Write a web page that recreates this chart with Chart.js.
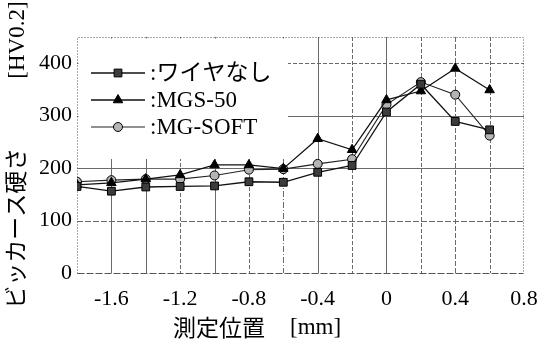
<!DOCTYPE html>
<html>
<head>
<meta charset="utf-8">
<script src="https://cdn.jsdelivr.net/npm/chart.js@4/dist/chart.umd.min.js"></script>
<style>
  html, body { margin: 0; padding: 0; background: #fff; }
  #wrap { width: 539px; height: 354px; }
</style>
</head>
<body>
<div id="wrap"><canvas id="c" width="539" height="354"></canvas></div>
<script>
// Measurement positions across the weld [mm]
const positions = [-1.8, -1.6, -1.4, -1.2, -1.0, -0.8, -0.6, -0.4, -0.2, 0, 0.2, 0.4, 0.6];

// Vickers hardness [HV0.2] for each condition
const noWire = [165, 156, 164, 165, 166, 174, 173, 192, 205, 307, 360, 289, 273];
const mgs50  = [168, 172, 179, 187, 206, 206, 199, 256, 235, 330, 347, 390, 349];
const mgSoft = [174, 177, 179, 179, 186, 197, 198, 208, 217, 321, 364, 340, 262];

const seriesNames = ['ワイヤなし', 'MGS-50', 'MG-SOFT'];
const xTickLabels = ['-1.6', '-1.2', '-0.8', '-0.4', '0', '0.4', '0.8'];
const yTickLabels = ['0', '100', '200', '300', '400'];

const SERIF = '"Liberation Serif", "Times New Roman", serif';
const JP = '"Noto Sans CJK JP", "Noto Sans", sans-serif';
const MIXED = '"Liberation Serif", "Noto Sans CJK JP", serif';

const toPoints = vals => vals.map((v, i) => ({ x: positions[i], y: v }));

// Grid line dash patterns (vertical lines left to right, horizontal lines bottom to top)
const vGridDash = [[], [], [4, 2], [], [4, 2], [6, 2, 1, 2], [], [4, 2], [], [4, 2], [5, 2], [4, 2]];
const hGridDash = [[6, 2], [], [], [4, 2], [5, 3], [], [6, 2], []];

function drawMarker(ctx, style, x, y, r, fill) {
  ctx.save();
  ctx.beginPath();
  if (style === 'rect') {
    const s = Math.SQRT1_2 * r;
    ctx.rect(x - s, y - s, 2 * s, 2 * s);
  } else if (style === 'triangle') {
    ctx.moveTo(x, y - r);
    ctx.lineTo(x + r * Math.sin(2 * Math.PI / 3), y - r * Math.cos(2 * Math.PI / 3));
    ctx.lineTo(x + r * Math.sin(4 * Math.PI / 3), y - r * Math.cos(4 * Math.PI / 3));
    ctx.closePath();
  } else {
    ctx.arc(x, y, r, 0, Math.PI * 2);
  }
  ctx.fillStyle = fill;
  ctx.fill();
  ctx.lineWidth = 1;
  ctx.strokeStyle = '#000';
  ctx.stroke();
  ctx.restore();
}

// Grid, frame and the boxed legend drawn under the data lines
const gridAndLegend = {
  id: 'gridAndLegend',
  beforeDatasetsDraw(chart) {
    const { ctx, chartArea: a, scales } = chart;
    const xs = scales.x, ys = scales.y;
    ctx.save();
    ctx.strokeStyle = '#6a6a6a';
    ctx.lineWidth = 1;

    let vi = 0;
    xs.ticks.forEach(t => {
      if (t.value <= xs.min + 1e-9 || t.value >= xs.max - 1e-9) return;
      const px = Math.round(xs.getPixelForValue(t.value)) + 0.5;
      ctx.setLineDash(vGridDash[vi++ % vGridDash.length]);
      ctx.beginPath(); ctx.moveTo(px, a.top); ctx.lineTo(px, a.bottom); ctx.stroke();
    });
    let hi = 0;
    ys.ticks.forEach(t => {
      if (t.value <= ys.min || t.value >= ys.max) return;
      const py = Math.round(ys.getPixelForValue(t.value)) + 0.5;
      ctx.setLineDash(hGridDash[hi++ % hGridDash.length]);
      ctx.beginPath(); ctx.moveTo(a.left, py); ctx.lineTo(a.right, py); ctx.stroke();
    });

    // frame: dotted left/top/right, dashed bottom
    const L = Math.round(a.left) + 0.5, R = Math.round(a.right) - 0.5;
    const T = Math.round(a.top) + 0.5, B = Math.round(a.bottom) + 0.5;
    ctx.strokeStyle = '#555';
    ctx.setLineDash([1, 2]);
    ctx.beginPath(); ctx.moveTo(L, B); ctx.lineTo(L, T); ctx.lineTo(R, T); ctx.lineTo(R, B); ctx.stroke();
    ctx.setLineDash([7, 2]);
    ctx.beginPath(); ctx.moveTo(L, B); ctx.lineTo(R, B); ctx.stroke();
    ctx.setLineDash([]);

    // legend box
    ctx.fillStyle = '#fff';
    ctx.fillRect(L + 1, T + 1, 287 - L, 158 - T);

    const rowY = [a.top + 36, a.top + 63, a.top + 90];
    const lineX0 = a.left + 14, lineX1 = a.left + 68, markX = a.left + 41, textX = a.left + 73;
    chart.data.datasets.forEach((ds, i) => {
      const y = rowY[i];
      ctx.strokeStyle = ds.borderColor;
      ctx.lineWidth = ds.borderWidth;
      ctx.beginPath(); ctx.moveTo(lineX0, y); ctx.lineTo(lineX1, y); ctx.stroke();
      drawMarker(ctx, ds.pointStyle, markX, y, ds.pointRadius, ds.pointBackgroundColor);
      ctx.fillStyle = '#000';
      ctx.font = '23px ' + MIXED;
      ctx.textAlign = 'left';
      ctx.textBaseline = 'middle';
      ctx.fillText(':' + ds.label, textX, y + 1);
    });
    ctx.restore();
  }
};

// x-axis title: Japanese part in gothic, unit part in serif
const xAxisTitle = {
  id: 'xAxisTitle',
  afterDraw(chart) {
    const { ctx, chartArea: a } = chart;
    ctx.save();
    ctx.fillStyle = '#000';
    ctx.textBaseline = 'middle';
    ctx.textAlign = 'left';
    ctx.font = '23px ' + JP;
    ctx.fillText('測定位置', a.left + 96, 327);
    ctx.font = '23px ' + SERIF;
    ctx.fillText('[mm]', a.left + 213, 328);
    ctx.restore();
  }
};

const fmtX = v => {
  const r = Math.round(v * 10);
  return r === 0 ? '0' : (r / 10).toString();
};

new Chart(document.getElementById('c'), {
  type: 'line',
  data: {
    datasets: [
      {
        label: seriesNames[0], data: toPoints(noWire),
        borderColor: '#111', borderWidth: 1.3,
        pointStyle: 'rect', pointRadius: 5.5,
        pointBackgroundColor: '#3c3c3c', pointBorderColor: '#000', pointBorderWidth: 1
      },
      {
        label: seriesNames[1], data: toPoints(mgs50),
        borderColor: '#111', borderWidth: 1.3,
        pointStyle: 'triangle', pointRadius: 5.5,
        pointBackgroundColor: '#000', pointBorderColor: '#000', pointBorderWidth: 1
      },
      {
        label: seriesNames[2], data: toPoints(mgSoft),
        borderColor: '#222', borderWidth: 1.1,
        pointStyle: 'circle', pointRadius: 4.5,
        pointBackgroundColor: '#b4b4b4', pointBorderColor: '#000', pointBorderWidth: 1
      }
    ]
  },
  options: {
    responsive: false,
    animation: false,
    devicePixelRatio: 1,
    layout: { padding: { top: 37, right: 15, bottom: 0, left: 0 } },
    plugins: { legend: { display: false }, tooltip: { enabled: false } },
    elements: { line: { tension: 0 } },
    scales: {
      x: {
        type: 'linear', min: -1.8, max: 0.8,
        grid: { display: false, drawTicks: false },
        border: { display: false },
        ticks: {
          stepSize: 0.2, autoSkip: false, maxRotation: 0, padding: 13,
          color: '#000', font: { family: SERIF, size: 22 },
          callback: v => xTickLabels.includes(fmtX(v)) ? fmtX(v) : ''
        },
        afterFit(s) { s.height = 81; s.paddingLeft = 0; s.paddingRight = 0; }
      },
      y: {
        min: 0, max: 450,
        title: {
          display: true,
          text: 'ビッカース硬さ　　　[HV0.2]',
          color: '#000',
          font: { family: MIXED, size: 23, lineHeight: 1.2 },
          padding: { top: 4, bottom: 0 }
        },
        grid: { display: false, drawTicks: false },
        border: { display: false },
        ticks: {
          stepSize: 50, padding: 5,
          color: '#000', font: { family: SERIF, size: 22 },
          callback: v => yTickLabels.includes(String(v)) ? String(v) : ''
        },
        afterFit(s) { s.width = 77; s.paddingTop = 0; s.paddingBottom = 0; }
      }
    }
  },
  plugins: [gridAndLegend, xAxisTitle]
});
</script>
</body>
</html>
